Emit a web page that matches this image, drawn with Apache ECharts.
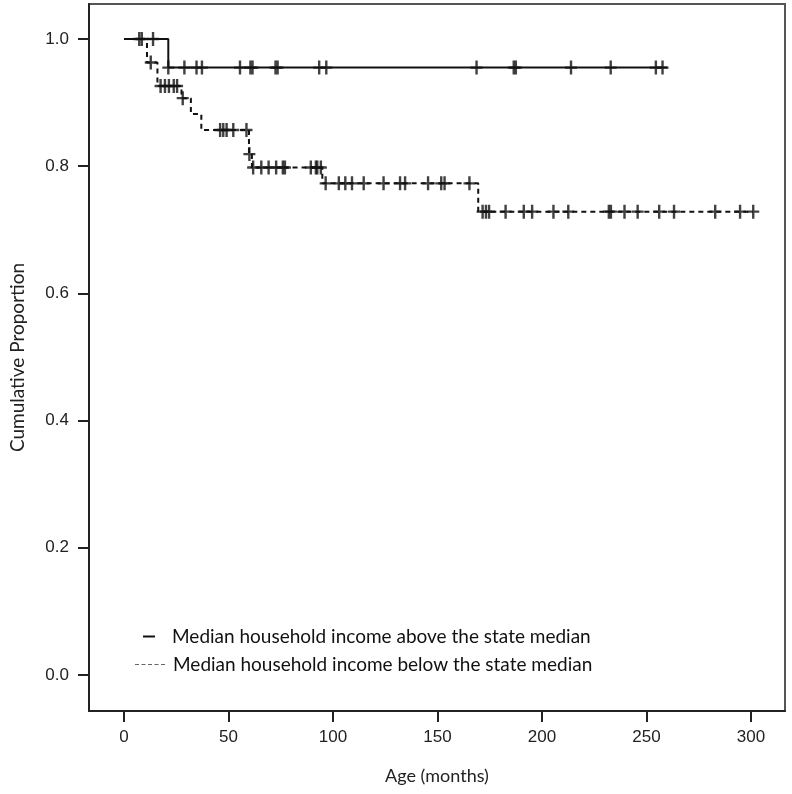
<!DOCTYPE html>
<html>
<head>
<meta charset="utf-8">
<script src="https://cdn.jsdelivr.net/npm/echarts@6/dist/echarts.min.js"></script>
<style>html,body{margin:0;padding:0;background:#fff}#c{width:792px;height:794px}</style>
</head>
<body>
<div id="c"></div>
<script>
const xTicks = [0, 50, 100, 150, 200, 250, 300];
const yTicks = [0, 0.2, 0.4, 0.6, 0.8, 1.0];
const seriesNames = ['Median household income above the state median', 'Median household income below the state median'];
// Kaplan-Meier steps [months, proportion]
const aboveSteps = [[0, 1.0], [21.2, 0.955], [260, 0.955]];
const aboveCensored = [7.3, 8.5, 13.9, 21.2, 28.9, 34.7, 37.3, 55.5, 60.5, 61.5, 72.5, 73.5, 93.4, 96.8, 168.7, 186.5, 187.5, 213.9, 232.9, 254.5, 257.7];
const belowSteps = [[0, 1.0], [11, 0.963], [16, 0.926], [27.5, 0.907], [32, 0.882], [37, 0.857], [59.8, 0.819], [61.2, 0.798], [94.9, 0.773], [169.5, 0.7285], [301, 0.7285]];
const belowCensored = [12.8, 17.5, 19.6, 21.5, 23.8, 25.4, 28.1, 46, 47.5, 49.1, 52.3, 58.6, 60, 61.8, 65.7, 69.2, 72.8, 76, 77, 89.4, 91.8, 92.5, 94.2, 96.5, 102.8, 105.9, 109.1, 114.7, 124.2, 132.1, 134.5, 145.5, 151.8, 153.4, 165.3, 171.6, 173.2, 174.7, 182.6, 191.3, 195.3, 205.5, 212.6, 232, 233, 239.5, 245.8, 256.1, 263.2, 282.9, 294.8, 301.1];

function valueAt(steps, t) {
  let v = steps[0][1];
  for (const s of steps) { if (s[0] <= t) v = s[1]; }
  return v;
}
const plus = 'path://M-1.2,-7 L1.2,-7 L1.2,-1.2 L6,-1.2 L6,1.2 L1.2,1.2 L1.2,7 L-1.2,7 L-1.2,1.2 L-6,1.2 L-6,-1.2 L-1.2,-1.2 Z';
const dashIcon = 'path://M0,0 L4,0 L4,1 L0,1 Z M6.5,0 L10.5,0 L10.5,1 L6.5,1 Z M13,0 L17,0 L17,1 L13,1 Z M19.5,0 L23.5,0 L23.5,1 L19.5,1 Z M26,0 L30,0 L30,1 L26,1 Z';
const ink = '#111';

const chart = echarts.init(document.getElementById('c'));
chart.setOption({
  animation: false,
  backgroundColor: '#fff',
  grid: { left: 83, top: 4, right: 7, bottom: 83, show: true, borderColor: '#555', borderWidth: 2, backgroundColor: 'transparent' },
  xAxis: {
    type: 'value', min: -16.75, max: 316.3,
    name: 'Age (months)', nameLocation: 'middle', nameGap: 56,
    nameTextStyle: { fontFamily: 'Lato', fontSize: 18, color: '#222' },
    axisLine: { show: true, onZero: false, lineStyle: { color: '#222', width: 2 } },
    axisTick: { show: true, customValues: xTicks, length: 11, lineStyle: { color: '#222', width: 2 } },
    axisLabel: { customValues: xTicks, margin: 18, fontFamily: 'Liberation Sans', fontSize: 17, color: '#222' },
    splitLine: { show: false }
  },
  yAxis: {
    type: 'value', min: -0.0566, max: 1.055,
    name: 'Cumulative Proportion', nameLocation: 'middle', nameGap: 62,
    nameTextStyle: { fontFamily: 'Lato', fontSize: 19, color: '#222' },
    axisLine: { show: true, onZero: false, lineStyle: { color: '#222', width: 2 } },
    axisTick: { show: true, customValues: yTicks, length: 11, lineStyle: { color: '#222', width: 2 } },
    axisLabel: { customValues: yTicks, margin: 20, fontFamily: 'Liberation Sans', fontSize: 17, color: '#222', formatter: v => v.toFixed(1) },
    splitLine: { show: false }
  },
  legend: [
    { data: [{ name: seriesNames[0], icon: 'path://M0,0 L12,0 L12,2 L0,2 Z' }], left: 138, top: 622, itemWidth: 12, itemHeight: 2,
      textStyle: { fontFamily: 'Lato', fontSize: 19, color: '#111', padding: [0, 0, 0, 12] } },
    { data: [{ name: seriesNames[1], icon: dashIcon }], left: 130, top: 650, itemWidth: 30, itemHeight: 1,
      itemStyle: { color: '#666' },
      textStyle: { fontFamily: 'Lato', fontSize: 19, color: '#111', padding: [0, 0, 0, 3] } }
  ],
  series: [
    { name: seriesNames[0], type: 'line', step: 'end', data: aboveSteps, symbol: 'none', lineStyle: { color: ink, width: 2 }, itemStyle: { color: ink }, z: 3 },
    { name: seriesNames[1], type: 'line', step: 'end', data: belowSteps, symbol: 'none', lineStyle: { color: ink, width: 2, type: [5, 4] }, itemStyle: { color: ink }, z: 3 },
    { name: 'c1', type: 'scatter', data: aboveCensored.map(t => [t, valueAt(aboveSteps, t)]), symbol: plus, symbolSize: [12, 14], itemStyle: { color: ink }, z: 4 },
    { name: 'c2', type: 'scatter', data: belowCensored.map(t => [t, valueAt(belowSteps, t)]), symbol: plus, symbolSize: [12, 14], itemStyle: { color: ink }, z: 4 }
  ]
});
</script>
</body>
</html>
